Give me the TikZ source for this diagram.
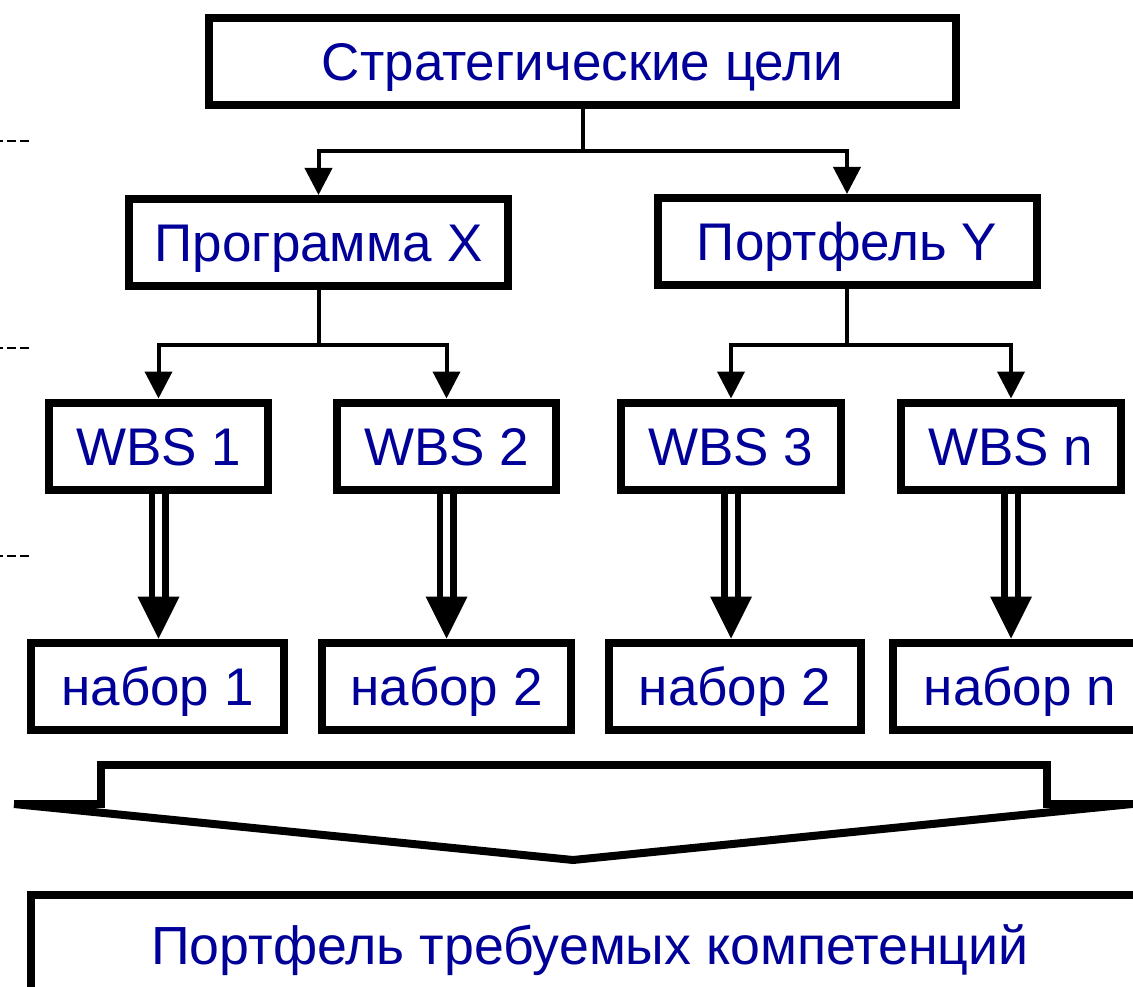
\documentclass[tikz,border=0pt]{standalone}
\usepackage{fontspec}
\setmainfont{Liberation Sans}
\usetikzlibrary{arrows.meta,calc}
\definecolor{txtblue}{RGB}{0,0,153}
\tikzset{
  box/.style={draw, line width=8pt, inner sep=0pt, fill=white,
    font=\fontsize{53}{60}\selectfont, text=txtblue, minimum height=87pt,
    text height=38pt, text depth=0pt},
  conn/.style={line width=4pt, line join=miter},
  arr/.style={conn, -{Triangle[width=27pt,length=27pt]}},
  dbl/.style={draw, line width=6.5pt, double=white, double distance=7pt},
  bigtip/.style={fill=black},
  frame/.style={line width=8pt, line join=miter},
  guide/.style={line width=1.3pt, dash pattern=on 9pt off 4pt}
}
\begin{document}
\begin{tikzpicture}[x=1pt,y=-1pt]
\useasboundingbox (0,0) rectangle (1133,987);
\fill[white] (0,0) rectangle (1133,987);
\clip (0,0) rectangle (1133,987);

% guide dashes on the left
\draw[guide] (29,141) -- (0,141);
\draw[guide] (29,348) -- (0,348);
\draw[guide] (29,556) -- (0,556);

% boxes
\node[box, minimum width=747pt] (top) at (582.5,62) {Стратегические цели};
\node[box, minimum width=379pt] (prog) at (318.5,242.5) {Программа X};
\node[box, minimum width=379pt] (port) at (847,241.5) {Портфель Y};

\node[box, minimum width=219pt] (w1) at (158.5,446) {WBS 1};
\node[box, minimum width=219pt] (w2) at (446.5,446) {WBS 2};
\node[box, minimum width=220pt] (w3) at (731,446) {WBS 3};
\node[box, minimum width=220pt] (wn) at (1011,446) {WBS n};

\node[box, minimum width=253pt] (n1) at (157.5,686) {набор 1};
\node[box, minimum width=249pt] (n2) at (446.5,686) {набор 2};
\node[box, minimum width=252pt] (n3) at (735,686) {набор 2};
\node[box, minimum width=254pt] (nn) at (1020,686) {набор n};

\node[box, font=\fontsize{53.7}{60}\selectfont, minimum width=1118pt, minimum height=100pt] (all) at (590,945) {Портфель требуемых компетенций};

% tree connectors
\coordinate (j0) at (582,151);
\draw[conn] (top.south) -- (top.south |- j0);
\draw[arr] (j0) -| (prog.north);
\draw[arr] (j0) -| (port.north);

\coordinate (j1) at (318.5,345);
\draw[conn] (prog.south) -- (j1);
\draw[arr] (j1) -| (w1.north);
\draw[arr] (j1) -| (w2.north);

\coordinate (j2) at (847,345);
\draw[conn] (port.south) -- (j2);
\draw[arr] (j2) -| (w3.north);
\draw[arr] (j2) -| (wn.north);

% double arrows
\foreach \w/\n in {w1/n1, w2/n2, w3/n3, wn/nn}{
  \coordinate (tip-\w) at (\w.south |- \n.north);
  \draw[dbl] (\w.south) -- ($(tip-\w)+(0,-40)$);
  \fill[bigtip] (tip-\w) -- ++(-21,-42) -- ++(42,0) -- cycle;
}

% merging bracket
\draw[frame] (14,804) -- (100.5,804) -- (100.5,764.5) -- (1047,764.5) -- (1047,804) -- (1140,804);
\draw[frame] (14,804) -- (573,860) -- (1132,804);
\end{tikzpicture}
\end{document}
